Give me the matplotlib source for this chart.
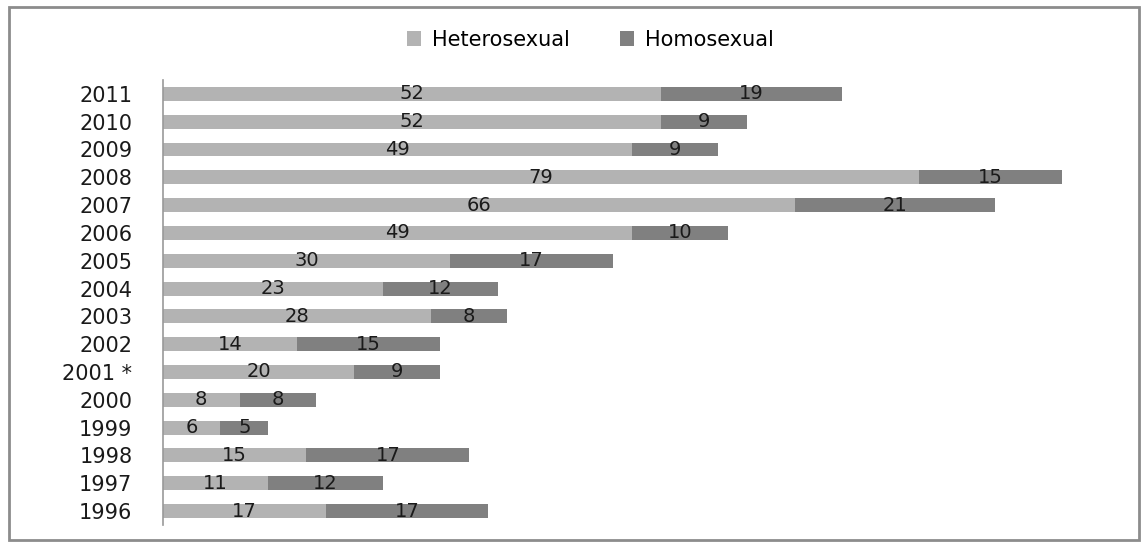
import matplotlib
matplotlib.use("Agg")
import matplotlib.pyplot as plt
from matplotlib.patches import Rectangle

years = ["1996", "1997", "1998", "1999", "2000", "2001 *", "2002", "2003",
         "2004", "2005", "2006", "2007", "2008", "2009", "2010", "2011"]
hetero = [17, 11, 15, 6, 8, 20, 14, 28, 23, 30, 49, 66, 79, 49, 52, 52]
homo = [17, 12, 17, 5, 8, 9, 15, 8, 12, 17, 10, 21, 15, 9, 9, 19]

c_hetero = "#b3b3b3"
c_homo = "#808080"

fig = plt.figure(figsize=(11.46, 5.44), dpi=100)
ax = fig.add_axes([0.1422, 0.035, 0.835, 0.818])

pos = range(len(years))
b1 = ax.barh(pos, hetero, height=0.5, color=c_hetero, label="Heterosexual")
b2 = ax.barh(pos, homo, left=hetero, height=0.5, color=c_homo, label="Homosexual")

# value labels in the middle of each segment
for i in pos:
    ax.text(hetero[i] / 2, i, str(hetero[i]), ha="center", va="center",
            fontsize=14, color="#1a1a1a")
    ax.text(hetero[i] + homo[i] / 2, i, str(homo[i]), ha="center", va="center",
            fontsize=14, color="#1a1a1a")

ax.set_xlim(0, 100)
ax.set_ylim(-0.5, len(years) - 0.5)
ax.set_yticks(list(pos))
ax.set_yticklabels(years, fontsize=15, color="#1a1a1a")
ax.tick_params(axis="y", length=0, pad=22)
ax.set_xticks([])
for s in ["top", "right", "bottom"]:
    ax.spines[s].set_visible(False)
ax.spines["left"].set_color("#999999")
ax.spines["left"].set_linewidth(1.2)

fig.legend(handles=[b1, b2], loc="center", bbox_to_anchor=(0.515, 0.927),
           ncol=2, frameon=False, fontsize=15, handlelength=0.7,
           handleheight=0.7, handletextpad=0.5, columnspacing=2.4)

fig.patches.append(Rectangle((0.008, 0.008), 0.986, 0.98, transform=fig.transFigure,
                             fill=False, edgecolor="#8c8c8c", linewidth=2))

fig.savefig("out.png", dpi=100)
